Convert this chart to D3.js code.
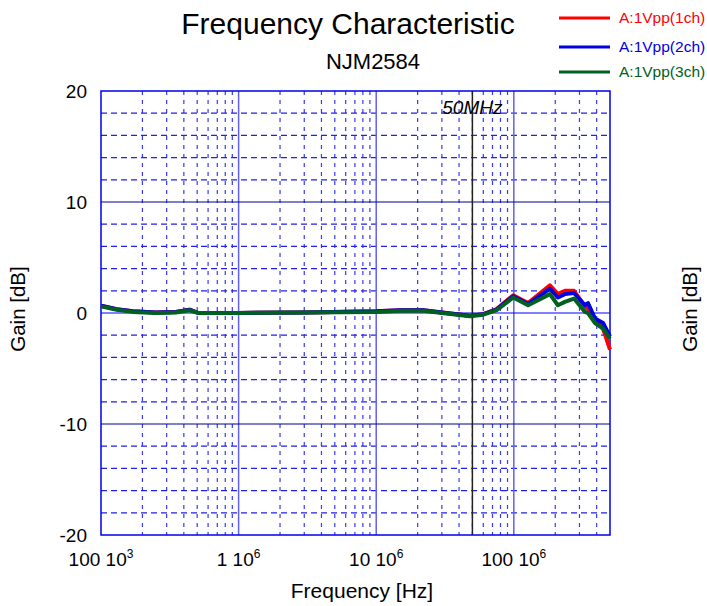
<!doctype html>
<html>
<head>
<meta charset="utf-8">
<script src="https://cdnjs.cloudflare.com/ajax/libs/d3/7.8.5/d3.min.js"></script>
<style>
  body { margin: 0; background: #fff; }
  svg { display: block; font-family: "Liberation Sans", Arial, sans-serif; }
</style>
</head>
<body>
<svg width="707" height="606"></svg>
<script>
// frequency points (Hz)
var freqs = [1e5, 1.3e5, 1.7e5, 2.5e5, 3.5e5, 4.4e5, 5.1e5, 1e6, 3e6, 1e7, 1.5e7, 2.2e7, 3e7, 4.8e7, 6e7, 7.5e7,
             9.9e7, 1.27e8, 1.83e8, 2.09e8, 2.35e8, 2.74e8, 3.29e8, 3.46e8, 3.89e8, 4.45e8, 5e8];
var gain1ch = [0.65, 0.35, 0.15, 0.05, 0.1, 0.3, 0.0, 0.0, 0.05, 0.15, 0.25, 0.25, 0.05, -0.25, -0.1, 0.35,
               1.6, 0.9, 2.5, 1.7, 2.0, 2.0, 0.6, 0.4, -0.6, -1.4, -3.3];
var gain2ch = [0.65, 0.35, 0.15, 0.05, 0.1, 0.3, 0.0, 0.0, 0.05, 0.15, 0.25, 0.25, 0.05, -0.25, -0.1, 0.3,
               1.5, 0.8, 2.2, 1.4, 1.7, 1.8, 0.7, 0.9, -0.5, -0.9, -2.1];
var gain3ch = [0.6, 0.3, 0.1, 0.0, 0.05, 0.25, 0.0, 0.0, 0.05, 0.1, 0.2, 0.2, 0.0, -0.3, -0.15, 0.25,
               1.4, 0.7, 1.7, 0.7, 1.0, 1.3, 0.1, 0.0, -0.9, -1.4, -2.3];
var seriesNames = ["A:1Vpp(1ch)", "A:1Vpp(2ch)", "A:1Vpp(3ch)"];
var seriesColors = ["#ff0000", "#0000e0", "#006020"];
var decadeTicks = [1e5, 1e6, 1e7, 1e8];
var decadeMant = ["100", "1", "10", "100"];
var decadeExp = ["3", "6", "6", "6"];
var yTicks = [20, 10, 0, -10, -20];
var markerFreq = 50e6;

var svg = d3.select("svg");
var pL = 101, pR = 610, pT = 91, pB = 535;

var x = d3.scaleLog().domain([1e5, 5e8]).range([pL, pR]);
var y = d3.scaleLinear().domain([-20, 20]).range([pB, pT]);

// minor vertical grid
var minorF = [];
for (var d = 1e5; d < 5e8; d *= 10) {
  for (var k = 2; k <= 9; k++) if (d * k < 5e8) minorF.push(d * k);
}
svg.append("g").selectAll("line").data(minorF).enter().append("line")
  .attr("x1", d => x(d)).attr("x2", d => x(d))
  .attr("y1", pT).attr("y2", pB)
  .attr("stroke", "#3a3af0").attr("stroke-width", 1.2)
  .attr("stroke-dasharray", "4,5");

// minor horizontal grid
var minorY = d3.range(-18, 20, 2).filter(v => v % 10 != 0);
svg.append("g").selectAll("line").data(minorY).enter().append("line")
  .attr("x1", pL).attr("x2", pR)
  .attr("y1", d => y(d)).attr("y2", d => y(d))
  .attr("stroke", "#2020e8").attr("stroke-width", 1.2)
  .attr("stroke-dasharray", "6,4");

// major vertical
svg.append("g").selectAll("line").data(decadeTicks.slice(1)).enter().append("line")
  .attr("x1", d => x(d)).attr("x2", d => x(d))
  .attr("y1", pT).attr("y2", pB)
  .attr("stroke", "#6060f0").attr("stroke-width", 1.5);

// major horizontal
svg.append("g").selectAll("line").data([10, 0, -10]).enter().append("line")
  .attr("x1", pL).attr("x2", pR)
  .attr("y1", d => y(d)).attr("y2", d => y(d))
  .attr("stroke", d => d == 0 ? "#0000ff" : "#000090").attr("stroke-width", 1.2);

// 50MHz marker
svg.append("line")
  .attr("x1", x(markerFreq)).attr("x2", x(markerFreq))
  .attr("y1", pT).attr("y2", pB)
  .attr("stroke", "#222").attr("stroke-width", 1.5);
svg.append("text")
  .attr("x", x(markerFreq)).attr("y", 114)
  .attr("text-anchor", "middle")
  .attr("font-size", 19).attr("font-style", "italic")
  .text("50MHz");

// frame
svg.append("rect")
  .attr("x", pL).attr("y", pT)
  .attr("width", pR - pL).attr("height", pB - pT)
  .attr("fill", "none").attr("stroke", "#0000ee").attr("stroke-width", 1.5);

// data lines
var line = d3.line().x(d => x(d[0])).y(d => y(d[1]));
[gain1ch, gain2ch, gain3ch].forEach(function (g, i) {
  svg.append("path")
    .datum(freqs.map((f, j) => [f, g[j]]))
    .attr("d", line)
    .attr("fill", "none")
    .attr("stroke", seriesColors[i])
    .attr("stroke-width", 4)
    .attr("stroke-linejoin", "round");
});

// y tick labels
svg.append("g").selectAll("text").data(yTicks).enter().append("text")
  .attr("x", 87).attr("y", d => y(d) + 7)
  .attr("text-anchor", "end").attr("font-size", 19)
  .text(d => d);

// x tick labels "100 10^3"
var xl = svg.append("g").selectAll("text").data(decadeTicks).enter().append("text")
  .attr("x", d => x(d)).attr("y", 566)
  .attr("text-anchor", "middle").attr("font-size", 19);
xl.append("tspan").text((d, i) => decadeMant[i] + " 10");
xl.append("tspan").attr("dy", -8).attr("font-size", 12).text((d, i) => decadeExp[i]);

// titles
svg.append("text").attr("x", 348).attr("y", 34).attr("text-anchor", "middle")
  .attr("font-size", 30).text("Frequency Characteristic");
svg.append("text").attr("x", 373).attr("y", 69).attr("text-anchor", "middle")
  .attr("font-size", 22).text("NJM2584");
svg.append("text").attr("x", 362).attr("y", 598).attr("text-anchor", "middle")
  .attr("font-size", 21).text("Frequency [Hz]");
svg.append("text").attr("transform", "translate(25,309) rotate(-90)")
  .attr("text-anchor", "middle").attr("font-size", 20.5).text("Gain [dB]");
svg.append("text").attr("transform", "translate(697,309) rotate(-90)")
  .attr("text-anchor", "middle").attr("font-size", 20.5).text("Gain [dB]");

// legend
var lg = svg.append("g").selectAll("g").data(seriesNames).enter().append("g")
  .attr("transform", (d, i) => "translate(0," + [18, 47, 72][i] + ")");
lg.append("line").attr("x1", 559).attr("x2", 610).attr("y1", 0).attr("y2", 0)
  .attr("stroke", (d, i) => seriesColors[i]).attr("stroke-width", 3);
lg.append("text").attr("x", 619).attr("y", 5).attr("font-size", 15.5)
  .attr("fill", (d, i) => seriesColors[i]).text(d => d);
</script>
</body>
</html>
